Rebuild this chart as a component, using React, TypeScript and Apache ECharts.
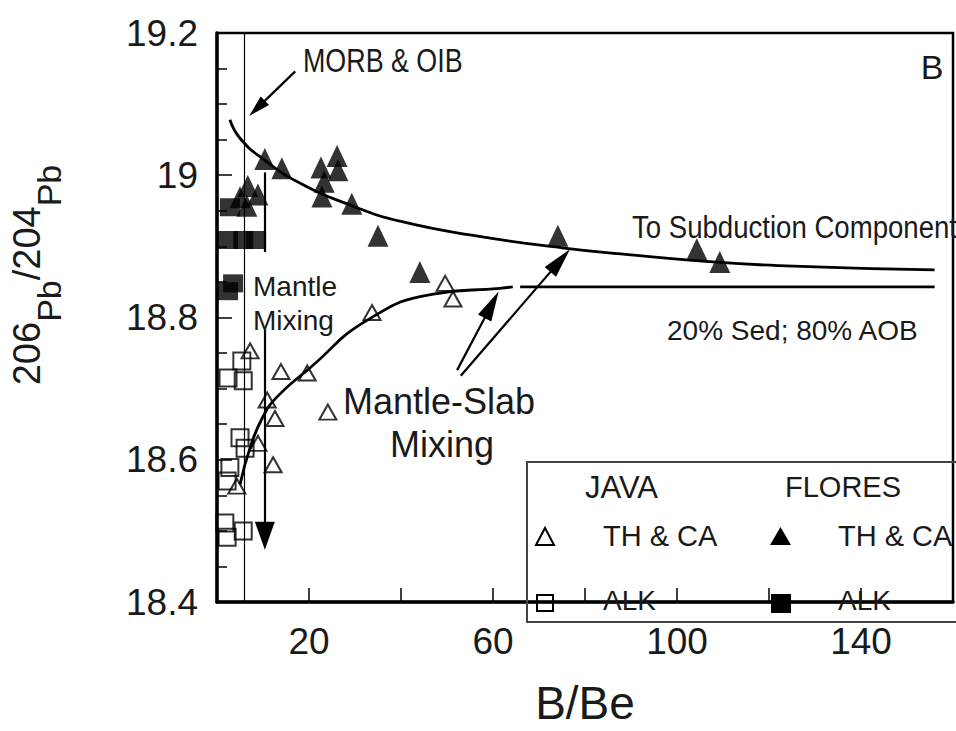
import React, { useEffect, useRef } from 'react';
import * as echarts from 'echarts';

// ---- data (B/Be, 206Pb/204Pb) ----
const javaThCa: [number, number][] = [
  [7.2, 18.753], [13.9, 18.724], [19.6, 18.722], [10.9, 18.684], [12.6, 18.658],
  [24.1, 18.667], [33.7, 18.807], [49.6, 18.848], [51.3, 18.826], [8.9, 18.623],
  [12.2, 18.593], [4.3, 18.563],
];
const javaAlk: [number, number][] = [
  [5.4, 18.739], [2.4, 18.715], [5.7, 18.711], [5.0, 18.631], [6.1, 18.616],
  [2.8, 18.589], [2.2, 18.57], [1.7, 18.511], [5.7, 18.5], [2.2, 18.491],
];
const floresThCa: [number, number][] = [
  [10.4, 19.023], [14.1, 19.01], [22.6, 19.011], [26.1, 19.027], [26.3, 19.007],
  [23.3, 18.991], [22.8, 18.97], [29.3, 18.96], [35.0, 18.915], [44.1, 18.864],
  [74.1, 18.915], [104.3, 18.896], [109.3, 18.878], [6.7, 18.985], [8.9, 18.973],
  [6.5, 18.957], [5.0, 18.969],
];
const floresAlk: [number, number][] = [
  [2.8, 18.955], [2.4, 18.909], [5.7, 18.909], [8.5, 18.909], [3.5, 18.848], [2.4, 18.837],
];
const upperCurve: [number, number][] = [
  [2.8, 19.078], [5, 19.052], [10, 19.023], [18, 18.989], [29, 18.958], [40, 18.935],
  [57, 18.914], [75, 18.898], [90, 18.888], [104, 18.88], [122, 18.873], [156, 18.867],
];
const lowerCurve: [number, number][] = [
  [5, 18.565], [7.2, 18.617], [9.8, 18.658], [13, 18.688], [20.2, 18.729],
  [32.6, 18.796], [47, 18.833], [61.5, 18.841], [64.3, 18.843],
];
const sedLine: [number, number][] = [[65.9, 18.843], [156, 18.843]];
const morbLineX = 5.9;
const mixingSegment: [number, number][] = [[10.4, 19.004], [10.4, 18.892]];
// arrows: start point, arrow-head point
const arrowMorb: [number, number][] = [[17.0, 19.146], [8.7, 19.094]];
const arrowMixing: [number, number][] = [[10.4, 18.783], [10.4, 18.493]];
const arrowSlab1: [number, number][] = [[52.2, 18.726], [59.7, 18.818]];
const arrowSlab2: [number, number][] = [[53.0, 18.718], [74.6, 18.88]];
const xTickLabels = [20, 60, 100, 140];
const yTickLabels = [18.4, 18.6, 18.8, 19, 19.2];

const FONT = 'Liberation Sans';
const INK = '#1a1a1a';

function seg(p: [number, number][], arrow: boolean, size: number[]) {
  return [
    { coord: p[0], symbol: 'none' },
    { coord: p[1], symbol: arrow ? 'triangle' : 'none', symbolSize: size },
  ];
}

export default function App() {
  const ref = useRef<HTMLDivElement>(null);
  useEffect(() => {
    if (!ref.current) return;
    const chart = echarts.init(ref.current, null, { renderer: 'svg' });
    const txt = (text: string, x: number, y: number, size: number, extra: any = {}) => ({
      type: 'text',
      x,
      y,
      ...extra,
      style: {
        text,
        fontSize: size,
        fontFamily: FONT,
        fill: INK,
        align: extra.align || 'left',
        verticalAlign: 'middle',
      },
      z: 100,
    });
    chart.setOption({
      animation: false,
      backgroundColor: '#fff',
      grid: {
        left: 217, right: 3, top: 33, bottom: 109,
        show: true, borderColor: '#000', borderWidth: 2.5, backgroundColor: 'transparent',
      },
      xAxis: {
        type: 'value', min: 0, max: 160, interval: 20,
        name: 'B/Be', nameLocation: 'middle', nameGap: 78,
        nameTextStyle: { fontSize: 46, fontFamily: FONT, color: INK },
        axisLine: { show: true, lineStyle: { color: '#000', width: 3.5 } },
        axisTick: { show: true, inside: true, length: 14, lineStyle: { color: '#000', width: 1.5 } },
        splitLine: { show: false },
        axisLabel: {
          fontSize: 37, fontFamily: FONT, color: INK, margin: 21,
          formatter: (v: number) => (xTickLabels.includes(Math.round(v)) ? String(Math.round(v)) : ''),
        },
      },
      yAxis: {
        type: 'value', min: 18.4, max: 19.2, interval: 0.2,
        axisLine: { show: true, lineStyle: { color: '#000', width: 3.5 } },
        axisTick: { show: true, inside: true, length: 15, lineStyle: { color: '#000', width: 1.5 } },
        minorTick: { show: true, splitNumber: 4, length: 10, lineStyle: { color: '#000', width: 1.5 } },
        splitLine: { show: false },
        axisLabel: {
          fontSize: 37, fontFamily: FONT, color: INK, margin: 19,
          formatter: (v: number) => {
            const r = Math.round(v * 10) / 10;
            return yTickLabels.includes(r) ? String(r) : '';
          },
        },
      },
      series: [
        {
          type: 'line', data: upperCurve, smooth: true, symbol: 'none', silent: true,
          lineStyle: { color: '#000', width: 2.8 }, z: 3,
        },
        {
          type: 'line', data: lowerCurve, smooth: true, symbol: 'none', silent: true,
          lineStyle: { color: '#000', width: 2.8 }, z: 3,
        },
        {
          type: 'line', data: sedLine, symbol: 'none', silent: true,
          lineStyle: { color: '#000', width: 2.8 }, z: 3,
          markLine: {
            silent: true, animation: false, symbol: ['none', 'none'],
            label: { show: false },
            lineStyle: { color: '#000', width: 2.2, type: 'solid' },
            data: [
              [{ coord: [morbLineX, 19.2], symbol: 'none' }, { coord: [morbLineX, 18.4], symbol: 'none', lineStyle: { width: 1.2 } }],
              seg(mixingSegment, false, [0, 0]),
              seg(arrowMixing, true, [20, 28]),
              seg(arrowMorb, true, [12, 22]),
              seg(arrowSlab1, true, [15, 30]),
              seg(arrowSlab2, true, [15, 30]),
            ],
          },
        },
        {
          name: 'JAVA TH & CA', type: 'scatter', data: javaThCa, symbol: 'triangle', symbolSize: [17, 15],
          itemStyle: { color: 'rgba(255,255,255,0)', borderColor: '#000', borderWidth: 2 }, z: 5,
        },
        {
          name: 'JAVA ALK', type: 'scatter', data: javaAlk, symbol: 'rect', symbolSize: 17,
          itemStyle: { color: 'rgba(255,255,255,0)', borderColor: '#000', borderWidth: 2 }, z: 5,
        },
        {
          name: 'FLORES TH & CA', type: 'scatter', data: floresThCa, symbol: 'triangle', symbolSize: [21, 22],
          itemStyle: { color: '#000' }, z: 6,
        },
        {
          name: 'FLORES ALK', type: 'scatter', data: floresAlk, symbol: 'rect', symbolSize: [20, 18],
          itemStyle: { color: '#000' }, z: 6,
        },
      ],
      graphic: [
        {
          type: 'text', x: 37, y: 275, rotation: Math.PI / 2, z: 100,
          style: {
            text: '{n|206}{p|Pb}{n|/204}{p|Pb}',
            align: 'center', verticalAlign: 'middle', fill: INK, fontFamily: FONT,
            rich: {
              n: { fontSize: 38, fontFamily: FONT, fill: INK, lineHeight: 58, verticalAlign: 'top' },
              p: { fontSize: 34, fontFamily: FONT, fill: INK, lineHeight: 58, verticalAlign: 'bottom' },
            },
          },
        },
        txt('MORB & OIB', 303, 60, 34, { scaleX: 0.79 }),
        txt('B', 932, 67, 34, { align: 'center' }),
        txt('Mantle', 253, 286, 28),
        txt('Mixing', 253, 320, 28),
        txt('Mantle-Slab', 343, 401, 36),
        txt('Mixing', 390, 444, 36),
        txt('To Subduction Component', 632, 227, 31, { scaleX: 0.89 }),
        txt('20% Sed; 80% AOB', 667, 330, 28),
        // legend box
        {
          type: 'rect', z: 90, shape: { x: 527, y: 462, width: 440, height: 160 },
          style: { fill: 'none', stroke: '#444', lineWidth: 2 },
        },
        txt('JAVA', 585, 487, 31),
        txt('FLORES', 785, 487, 29),
        txt('TH & CA', 603, 536, 29),
        txt('ALK', 603, 600, 28),
        txt('TH & CA', 838, 536, 29),
        txt('ALK', 838, 600, 28),
        {
          type: 'polygon', z: 95, shape: { points: [[536, 545], [554, 545], [545, 528]] },
          style: { fill: 'none', stroke: '#000', lineWidth: 2 },
        },
        {
          type: 'polygon', z: 95, shape: { points: [[770, 545], [791, 545], [780.5, 527]] },
          style: { fill: '#000' },
        },
        {
          type: 'rect', z: 95, shape: { x: 537, y: 595, width: 16, height: 16 },
          style: { fill: 'none', stroke: '#000', lineWidth: 2 },
        },
        {
          type: 'rect', z: 95, shape: { x: 771, y: 594, width: 20, height: 19 },
          style: { fill: '#000' },
        },
      ],
    });
    return () => chart.dispose();
  }, []);
  return (
    <div
      ref={ref}
      style={{ position: 'fixed', left: 0, top: 0, width: 956, height: 731, background: '#fff' }}
    />
  );
}
